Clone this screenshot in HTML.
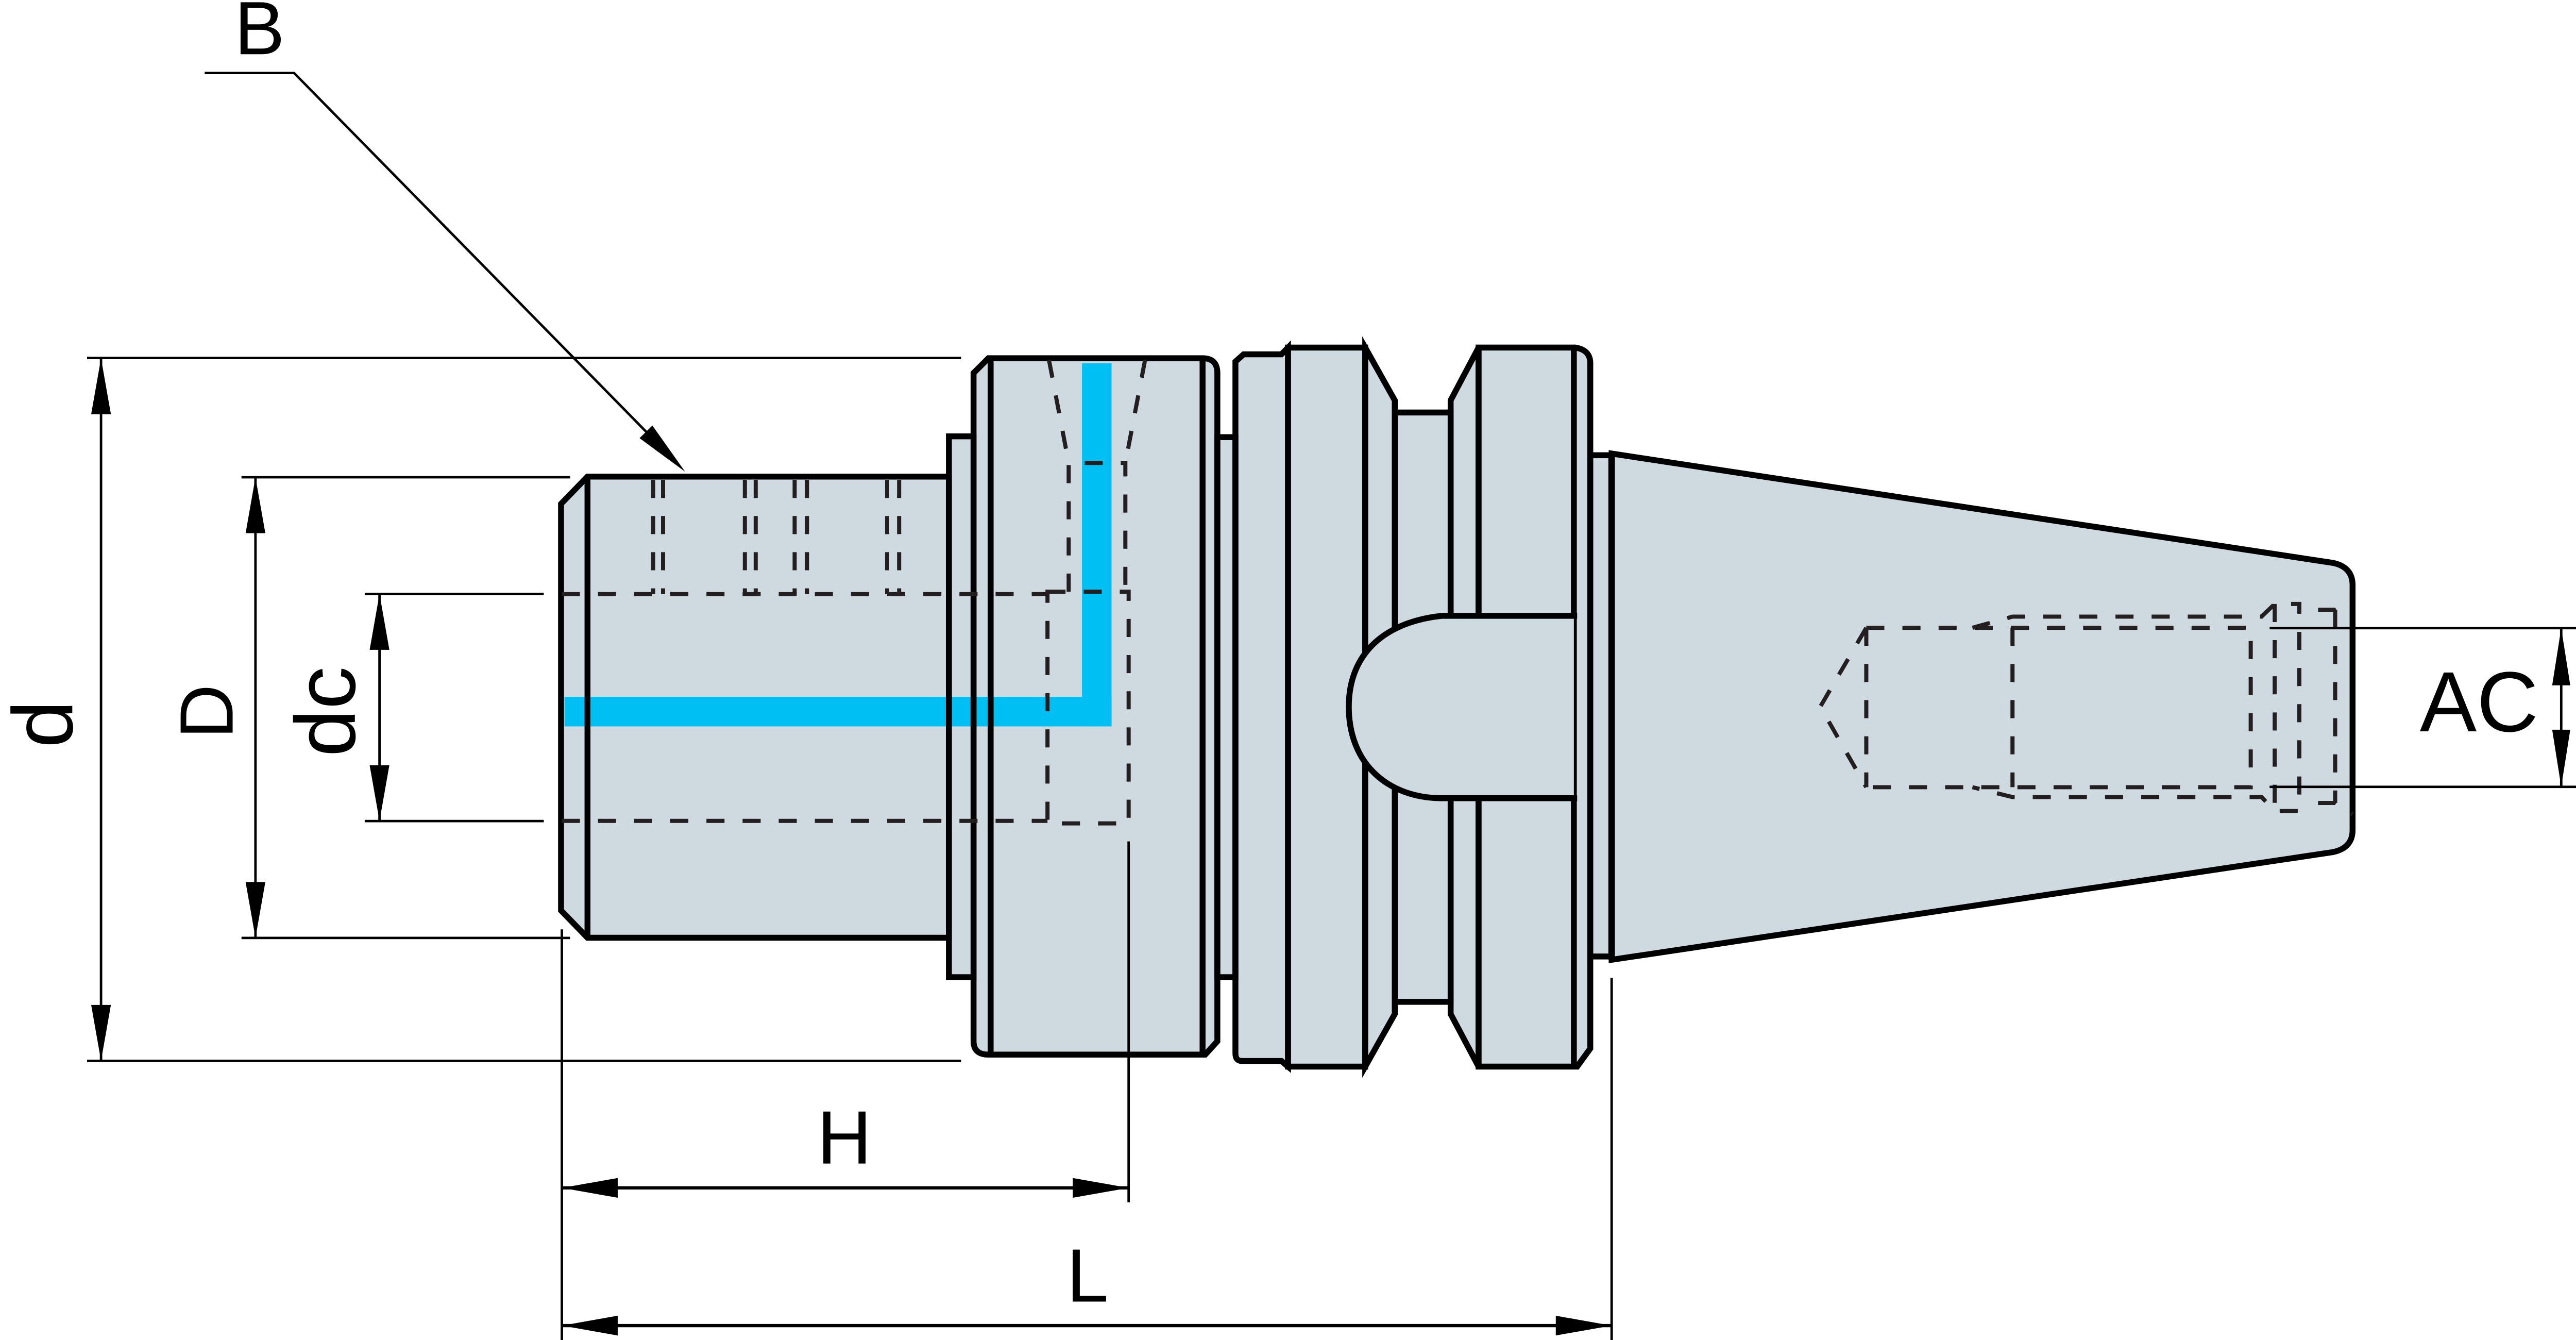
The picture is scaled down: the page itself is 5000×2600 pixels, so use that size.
<!DOCTYPE html>
<html><head><meta charset="utf-8">
<style>html,body{margin:0;padding:0;background:#fff;}svg{display:block}</style>
</head>
<body>
<svg xmlns="http://www.w3.org/2000/svg" xmlns:xlink="http://www.w3.org/1999/xlink" width="5000" height="2600" viewBox="0 0 1568 815.36">
<defs>
<g id="shapes">
 <polygon points="341.5,306.6 357.6,290 577.6,290 577.6,570.6 357.6,570.6 341.5,554"/>
 <rect x="577.6" y="265.5" width="15" height="329.1"/>
 <path d="M592.6,227 L601.6,218 L732,218 Q741,218 741,227 L741,633.6 L733.6,641.7 L601.6,641.7 Q592.6,641.7 592.6,633.6 Z"/>
 <rect x="741" y="266" width="11" height="328.6"/>
 <path d="M752,220 L757,215.6 L780,215.6 L784,211.5 L784,649 L780,645.6 L756,645.6 Q752,645.6 752,641 Z"/>
 <rect x="784" y="211.5" width="47" height="437.5"/>
 <polygon points="831,211.5 849,243.6 849,617 831,649"/>
 <rect x="849" y="251" width="34" height="358.6"/>
 <polygon points="883,243.6 900,211.5 900,649 883,617"/>
 <path d="M900,211.5 L959,211.5 Q968,213 968,221 L968,638 L960,649 L900,649 Z"/>
 <rect x="968" y="277" width="13" height="305"/>
 <path d="M981,276 L1420,342.5 Q1432,345 1432,356 L1432,505 Q1432,516 1420,518.5 L981,584 Z"/>
</g>
</defs>

<use xlink:href="#shapes" href="#shapes" fill="#CED9E0" stroke="none"/>

<!-- coolant channel -->
<rect x="343.6" y="424" width="333" height="18" fill="#00C0F3"/>
<rect x="658.6" y="221" width="18" height="221" fill="#00C0F3"/>

<use xlink:href="#shapes" href="#shapes" fill="none" stroke="#000" stroke-width="3.6"/>

<!-- inner lines -->
<g stroke="#000" stroke-width="3.6" fill="none">
 <line x1="357.6" y1="290" x2="357.6" y2="570.6"/>
 <line x1="603" y1="218" x2="603" y2="641.7"/>
 <line x1="732" y1="218" x2="732" y2="641.7"/>
 <line x1="958" y1="211.5" x2="958" y2="649"/>
 <line x1="981" y1="276" x2="981" y2="584" stroke-width="4"/>
</g>

<!-- slot -->
<path d="M958,374.7 L878,374.7 C845,378 821,396 821,430 C821,465 845,485.7 878,485.7 L958,485.7 Z" fill="#CED9E0" stroke="none"/>
<path d="M960,374.7 L878,374.7 C845,378 821,396 821,430 C821,465 845,485.7 878,485.7 L960,485.7" fill="none" stroke="#000" stroke-width="3.6"/>

<!-- hidden (dashed) lines -->
<g stroke="#231f20" stroke-width="2.5" fill="none" stroke-dasharray="11 11">
 <path d="M342,361.5 H637.6"/>
 <path d="M342,499.5 H637.6"/>
 <path d="M637.6,360 H687 V501 H637.6 Z"/>
 <path d="M650.5,360 V281.7 H685 V360"/>
 <path d="M638.5,219 L650.5,281.7"/>
 <path d="M697,219 L685,281.7"/>
 <path d="M397.6,292 V361.5 M403.6,292 V361.5 M453.4,292 V361.5 M460,292 V361.5 M483.7,292 V361.5 M491.2,292 V361.5 M540,292 V361.5 M547.3,292 V361.5"/>
 <path d="M1136,382 L1108,430 L1136,479"/>
 <path d="M1136,382 V479"/>
 <path d="M1136,382 H1370 V479 H1136"/>
 <path d="M1200.6,382 L1225,375.2 H1376.6 L1384.6,367.5 H1399.6 V493.5 H1384.6 L1376.6,485 H1225 L1200.6,479"/>
 <path d="M1225,382 V479"/>
 <path d="M1384.6,367.5 V493.5"/>
 <path d="M1411,371 H1421.4 L1432,366 M1421.4,371 V488.6 M1411,488.6 H1421.4 L1432,495.5"/>
</g>

<!-- dimension lines -->
<g stroke="#000" stroke-width="1.5" fill="none">
 <line x1="53" y1="217.8" x2="585" y2="217.8"/>
 <line x1="53" y1="645.5" x2="585" y2="645.5"/>
 <line x1="61.5" y1="218" x2="61.5" y2="645.5"/>
 <line x1="147" y1="290.4" x2="347" y2="290.4"/>
 <line x1="147" y1="570.7" x2="347" y2="570.7"/>
 <line x1="155.5" y1="290.4" x2="155.5" y2="570.7"/>
 <line x1="222" y1="361.4" x2="331" y2="361.4"/>
 <line x1="222" y1="499.6" x2="331" y2="499.6"/>
 <line x1="231" y1="361.4" x2="231" y2="499.6"/>
 <line x1="342" y1="565.5" x2="342" y2="815.4"/>
 <line x1="687" y1="512" x2="687" y2="731.6"/>
 <line x1="981" y1="595" x2="981" y2="815.4"/>
 <line x1="342" y1="722.8" x2="687" y2="722.8" stroke-width="2"/>
 <line x1="342" y1="806.6" x2="981" y2="806.6" stroke-width="2"/>
 <line x1="1381.5" y1="382.2" x2="1568" y2="382.2"/>
 <line x1="1381.5" y1="478.8" x2="1568" y2="478.8"/>
 <line x1="1559" y1="382.2" x2="1559" y2="478.8"/>
 <polyline points="124.6,44.4 179,44.4 400,269.5"/>
</g>

<!-- arrowheads -->
<g fill="#000" stroke="none">
 <polygon points="61.5,218 55.5,252 67.5,252"/>
 <polygon points="61.5,645.5 55.5,611.5 67.5,611.5"/>
 <polygon points="155.5,290.4 149.5,324.4 161.5,324.4"/>
 <polygon points="155.5,570.7 149.5,536.7 161.5,536.7"/>
 <polygon points="231,361.4 225,395.4 237,395.4"/>
 <polygon points="231,499.6 225,465.6 237,465.6"/>
 <polygon points="342,722.8 376,716.8 376,728.8"/>
 <polygon points="687,722.8 653,716.8 653,728.8"/>
 <polygon points="342,806.6 376,800.6 376,812.6"/>
 <polygon points="981,806.6 947,800.6 947,812.6"/>
 <polygon points="1559,382.2 1553.5,417 1564.5,417"/>
 <polygon points="1559,478.8 1553.5,444 1564.5,444"/>
 <polygon points="417,287 389.3,266.6 397.1,258.9"/>
</g>

<!-- labels -->
<g font-family="'Liberation Sans', sans-serif" fill="#000" text-anchor="middle">
 <text x="158" y="33" font-size="46">B</text>
 <text x="514" y="708" font-size="46">H</text>
 <text x="662" y="792" font-size="46">L</text>
 <text x="1509" y="445" font-size="52">AC</text>
 <text transform="translate(44,440.6) rotate(-90)" font-size="52">d</text>
 <text transform="translate(141.6,433) rotate(-90)" font-size="46">D</text>
 <text transform="translate(216,433) rotate(-90)" font-size="52">dc</text>
</g>
</svg>
</body></html>
